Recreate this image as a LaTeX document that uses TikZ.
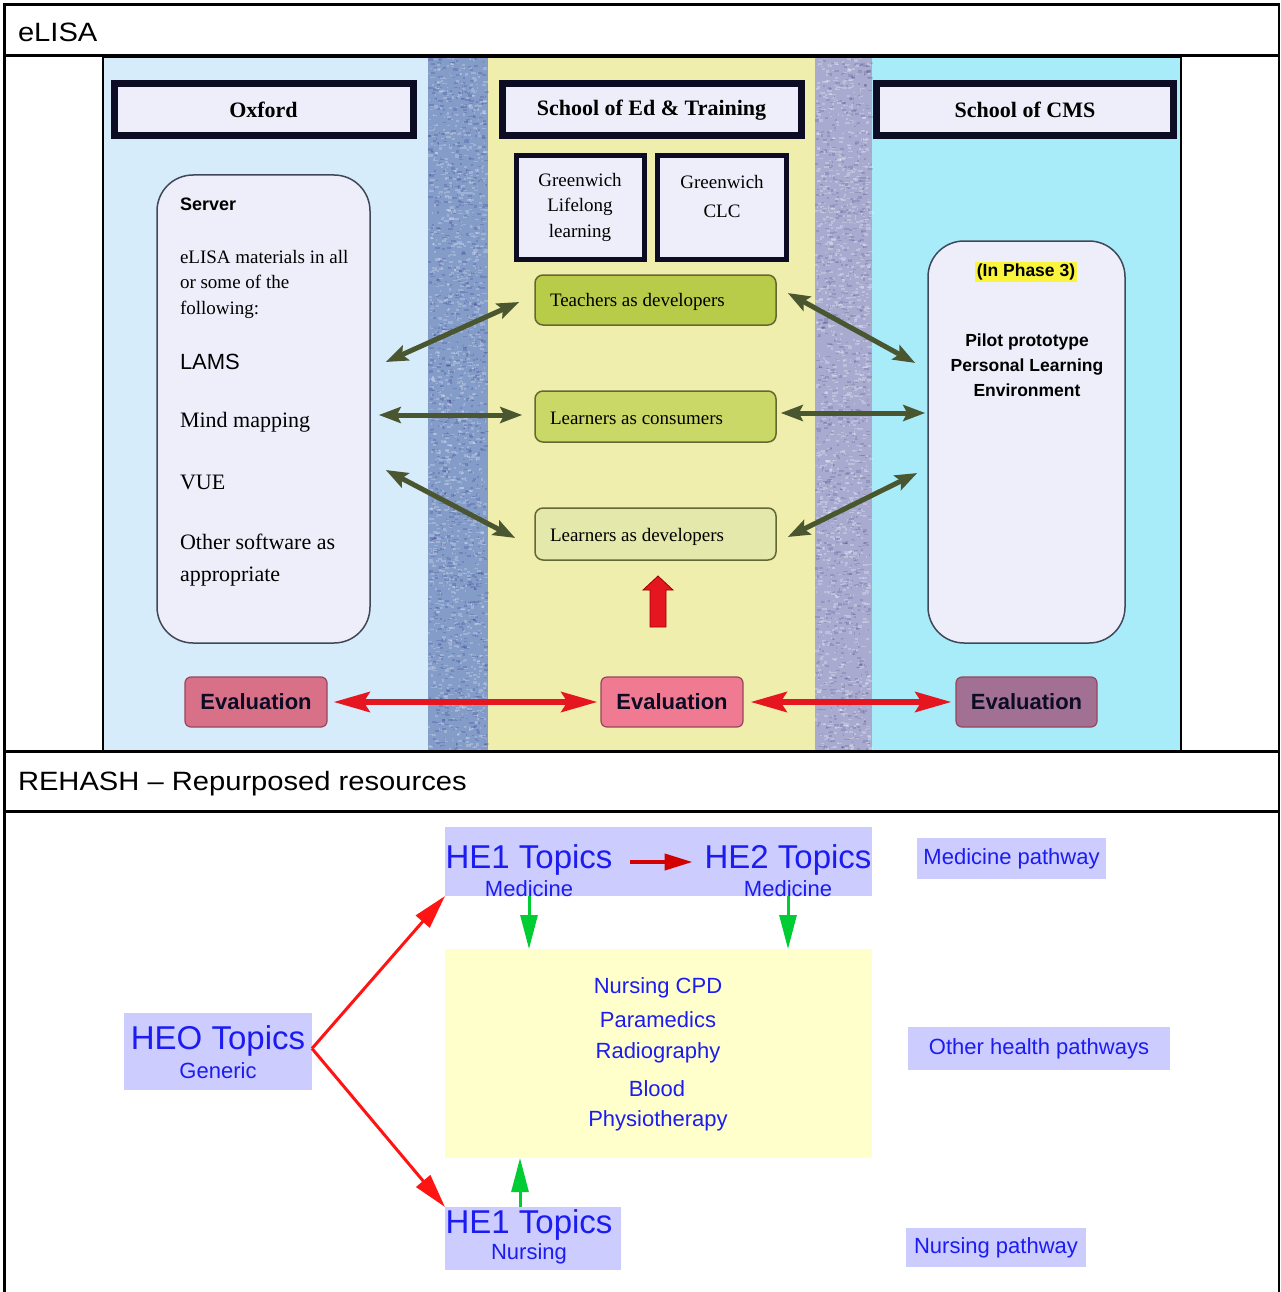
\documentclass[tikz,border=0pt]{standalone}
\usepackage{fontspec}
\setmainfont{Liberation Serif}
\setsansfont{Liberation Sans}
\newfontfamily\hdrfont[FakeStretch=1.1]{Liberation Sans}
\usetikzlibrary{arrows.meta}

\definecolor{leftbg}{RGB}{214,236,250}
\definecolor{midbg}{RGB}{240,238,172}
\definecolor{rightbg}{RGB}{168,236,250}
\definecolor{stripeA}{RGB}{132,156,200}
\definecolor{stripeB}{RGB}{168,170,208}
\definecolor{paper}{RGB}{238,238,250}
\definecolor{frame}{RGB}{12,12,36}
\definecolor{oliveA}{RGB}{184,204,74}
\definecolor{oliveB}{RGB}{202,216,104}
\definecolor{oliveC}{RGB}{228,232,170}
\definecolor{oliveEdge}{RGB}{100,104,50}
\definecolor{armgreen}{RGB}{74,86,48}
\definecolor{evalA}{RGB}{216,112,136}
\definecolor{evalB}{RGB}{240,122,146}
\definecolor{evalC}{RGB}{162,112,146}
\definecolor{evalEdge}{RGB}{150,70,90}
\definecolor{hotred}{RGB}{230,22,32}
\definecolor{lav}{RGB}{204,204,255}
\definecolor{cream}{RGB}{255,255,204}
\definecolor{ink}{RGB}{28,28,240}
\definecolor{vred}{RGB}{255,20,20}
\definecolor{dred}{RGB}{210,0,0}
\definecolor{vgreen}{RGB}{0,204,51}
\definecolor{hilite}{RGB}{250,245,60}
\definecolor{boxedge}{RGB}{64,72,88}

\newcommand\fsz[1]{\fontsize{#1}{#1}\selectfont}
\newcommand\fsb[2]{\fontsize{#1}{#2}\selectfont}

\begin{document}
\begin{tikzpicture}[x=1pt,y=-1pt,
  bt/.style={inner sep=0,outer sep=0},
  hdrbox/.style={draw=frame,line width=7,fill=paper,inner sep=0,
    font=\bfseries\fsz{22}},
  gbox/.style={draw=frame,line width=5,fill=paper,inner sep=0},
  obox/.style={draw=oliveEdge,line width=1.5,rounded corners=8,inner sep=0},
  rbox/.style={draw=boxedge,line width=1.5,fill=paper,rounded corners=36,inner sep=0},
  ebox/.style={draw=evalEdge,line width=1.2,rounded corners=6,inner sep=0,
    font=\sffamily\bfseries\fsz{22},text=frame},
  lbox/.style={fill=lav,inner sep=0,outer sep=0},
  cbox/.style={fill=cream,inner sep=0,outer sep=0},
  btext/.style={bt,text=ink,font=\sffamily\fsz{22}},
  dgarr/.style={armgreen,line width=5,
    {Stealth[length=22pt,width=16pt,inset=4pt]}-{Stealth[length=22pt,width=16pt,inset=4pt]}},
  rarr/.style={hotred,line width=6,
    {Stealth[length=36pt,width=20pt,inset=6pt]}-{Stealth[length=36pt,width=20pt,inset=6pt]}},
  varr/.style={vred,line width=3,-{Triangle[length=34pt,width=18pt]}},
  darr/.style={dred,line width=4,-{Triangle[length=28pt,width=16pt]}},
  garr/.style={vgreen,line width=3,-{Triangle[length=34pt,width=17pt]}}]

\useasboundingbox (0,0) rectangle (1281,1292);
\fill[white] (0,0) rectangle (1281,1292);

% ---------- eLISA panel backgrounds ----------
\fill[leftbg]  (104,57) rectangle (428,751);
\fill[stripeA] (428,57) rectangle (488,751);
\fill[midbg]   (488,57) rectangle (815,751);
\fill[stripeB] (815,57) rectangle (872,751);
\fill[rightbg] (872,57) rectangle (1181,751);

% stone-like speckle on the two dividing stripes
\pgfmathsetseed{11}
\foreach \i in {1,...,1400}{
  \pgfmathsetmacro{\px}{428+rnd*57}
  \pgfmathsetmacro{\py}{57+rnd*692}
  \fill[white,opacity=.22] (\px,\py) rectangle ++(1+rnd*4,1+rnd*1.5);
}
\foreach \i in {1,...,1000}{
  \pgfmathsetmacro{\px}{428+rnd*57}
  \pgfmathsetmacro{\py}{57+rnd*692}
  \fill[blue!40!black,opacity=.14] (\px,\py) rectangle ++(1+rnd*4,1+rnd*1.5);
}
\foreach \i in {1,...,1300}{
  \pgfmathsetmacro{\px}{815+rnd*54}
  \pgfmathsetmacro{\py}{57+rnd*692}
  \fill[white,opacity=.25] (\px,\py) rectangle ++(1+rnd*4,1+rnd*1.5);
}
\foreach \i in {1,...,900}{
  \pgfmathsetmacro{\px}{815+rnd*54}
  \pgfmathsetmacro{\py}{57+rnd*692}
  \fill[blue!30!black,opacity=.12] (\px,\py) rectangle ++(1+rnd*4,1+rnd*1.5);
}

\draw[line width=2] (103,57) rectangle (1181,751);

% ---------- table frame ----------
\draw[line width=2.5] (4.5,1292) -- (4.5,4.5) -- (1279,4.5) -- (1279,1292);
\draw[line width=3] (4,56) -- (1279,56);
\draw[line width=3] (4,751.5) -- (1279,751.5);
\draw[line width=3] (4,811.5) -- (1279,811.5);

\node[bt,anchor=west,font=\hdrfont\fsz{26.5}] (capA) at (18,32) {eLISA};
\node[bt,anchor=west,font=\hdrfont\fsz{26.5}] (capB) at (18,783.5) {REHASH – Repurposed resources};

% ---------- header boxes ----------
\node[hdrbox,minimum width=299,minimum height=52] (oxf) at (263.5,110) {Oxford};
\node[hdrbox,minimum width=299,minimum height=52] (sed) at (651.5,110) {School of Ed \& Training};
\node[hdrbox,minimum width=297,minimum height=52] (cms) at (1025,110) {School of CMS};

% ---------- Greenwich boxes ----------
\node[gbox,minimum width=128,minimum height=104] (gll) at (580,207.5) {};
\node[gbox,minimum width=129,minimum height=104] (gclc) at (721.5,207.5) {};
\node[bt,align=center,font=\fsb{19}{25.5}] (gllT) at (580,207) {Greenwich\\Lifelong\\learning};
\node[bt,align=center,font=\fsb{19}{29}] (gclcT) at (722,197) {Greenwich\\CLC};

% ---------- role boxes ----------
\node[obox,fill=oliveA,minimum width=241,minimum height=50] (tch) at (655.5,300) {};
\node[obox,fill=oliveB,minimum width=241,minimum height=51] (con) at (655.5,416.5) {};
\node[obox,fill=oliveC,minimum width=241,minimum height=52] (dev) at (655.5,534) {};
\node[bt,anchor=west,font=\fsz{19}] (tchT) at (550,301.5) {Teachers as developers};
\node[bt,anchor=west,font=\fsz{19}] (conT) at (550,418.5) {Learners as consumers};
\node[bt,anchor=west,font=\fsz{19}] (devT) at (550,536.5) {Learners as developers};

% ---------- server and PLE boxes ----------
\node[rbox,minimum width=213,minimum height=468] (srv) at (263.5,409) {};
\node[rbox,minimum width=197,minimum height=402] (ple) at (1026.5,442) {};

\node[bt,anchor=west,font=\sffamily\bfseries\fsz{18}] (srvT) at (180,204) {Server};
\node[bt,anchor=north west,align=left,font=\fsb{19}{25.5}] (srvMat) at (180,250) {eLISA materials in all\\or some of the\\following:};
\node[bt,anchor=west,font=\sffamily\fsz{22}] (srvL) at (180,362) {LAMS};
\node[bt,anchor=west,font=\fsz{22}] (srvM) at (180,422) {Mind mapping};
\node[bt,anchor=west,font=\fsz{22}] (srvV) at (180,482) {VUE};
\node[bt,anchor=north west,align=left,font=\fsb{22}{32}] (srvO) at (180,534) {Other software as\\appropriate};

\node[bt,fill=hilite,inner xsep=2,inner ysep=1.5,font=\sffamily\bfseries\fsz{17.5}] (phase) at (1026,272) {(In Phase 3)};
\node[bt,align=center,font=\sffamily\bfseries\fsb{17.5}{25}] (pilot) at (1027,365) {Pilot prototype\\Personal Learning\\Environment};

% ---------- evaluation boxes ----------
\node[ebox,fill=evalA,minimum width=142,minimum height=50] (ev1) at (256,702) {Evaluation};
\node[ebox,fill=evalB,minimum width=142,minimum height=50] (ev2) at (672,702) {Evaluation};
\node[ebox,fill=evalC,minimum width=141,minimum height=50] (ev3) at (1026.5,702) {Evaluation};

% red block arrow under the learners
\filldraw[fill=hotred,draw=red!60!black,line width=.8]
  (650,627) -- (650,590) -- (643,590) -- (658,576) -- (673,590) -- (666,590) -- (666,627) -- cycle;

% ---------- eLISA connectors ----------
\draw[dgarr] ([shift={(15,-47)}]srv.east) -- ([shift={(-15,2)}]tch.west);
\draw[dgarr] ([shift={(8,6)}]srv.east) -- ([shift={(-12,-1.5)}]con.west);
\draw[dgarr] ([shift={(15,61)}]srv.east) -- ([shift={(-19,4)}]dev.west);
\draw[dgarr] ([shift={(11,-7)}]tch.east) -- ([shift={(-12,-79)}]ple.west);
\draw[dgarr] ([shift={(4,-3.5)}]con.east) -- ([shift={(-2,-29)}]ple.west);
\draw[dgarr] ([shift={(11,3)}]dev.east) -- ([shift={(-10,31)}]ple.west);

\draw[rarr] ([xshift=6]ev1.east) -- ([xshift=-3]ev2.west);
\draw[rarr] ([xshift=7]ev2.east) -- ([xshift=-4]ev3.west);

% ---------- REHASH diagram ----------
\node[lbox,minimum width=427,minimum height=69] (medbox) at (658.5,861.5) {};
\node[cbox,minimum width=427,minimum height=209] (ylw) at (658.5,1053.5) {};
\node[lbox,minimum width=188,minimum height=77] (heo) at (218,1051.5) {};
\node[lbox,minimum width=176,minimum height=63] (nurbox) at (533,1238.5) {};

\node[btext,font=\sffamily\fsz{33}] (heoT) at (218,1041) {HEO Topics};
\node[btext] (heoS) at (218,1071) {Generic};
\node[btext,font=\sffamily\fsz{33}] (he1mT) at (529,860) {HE1 Topics};
\node[btext] (he1mS) at (529,889) {Medicine};
\node[btext,font=\sffamily\fsz{33}] (he2mT) at (788,860) {HE2 Topics};
\node[btext] (he2mS) at (788,889) {Medicine};
\node[btext,font=\sffamily\fsz{33}] (nurT) at (529,1225) {HE1 Topics};
\node[btext] (nurS) at (529,1254) {Nursing};

\node[btext] (l1) at (658,988) {Nursing CPD};
\node[btext] (l2) at (658,1020) {Paramedics};
\node[btext] (l3) at (658,1053) {Radiography};
\node[btext] (l4) at (657,1089) {Blood};
\node[btext] (l5) at (658,1121) {Physiotherapy};

\node[lbox,text=ink,font=\sffamily\fsz{22},minimum width=189,minimum height=41] (pMed) at (1011.5,858.5) {Medicine pathway};
\node[lbox,text=ink,font=\sffamily\fsz{22},minimum width=262,minimum height=43] (pOth) at (1039,1048.5) {Other health pathways};
\node[lbox,text=ink,font=\sffamily\fsz{22},minimum width=180,minimum height=39] (pNur) at (996,1247.5) {Nursing pathway};

% ---------- REHASH connectors ----------
\coordinate (fork) at ([yshift=3]heo.east);
\draw[varr] (fork) -- (medbox.south west);
\draw[varr] (fork) -- (nurbox.north west);
\draw[darr] ([shift={(18,2)}]he1mT.east) -- ([shift={(-12,2)}]he2mT.west);
\draw[garr] (medbox.south -| he1mS) -- (ylw.north -| he1mS);
\draw[garr] (medbox.south -| he2mS) -- (ylw.north -| he2mS);
\coordinate (nurUp) at ([xshift=-13]nurbox.north);
\draw[garr] (nurUp) -- (nurUp |- ylw.south);

\end{tikzpicture}
\end{document}
